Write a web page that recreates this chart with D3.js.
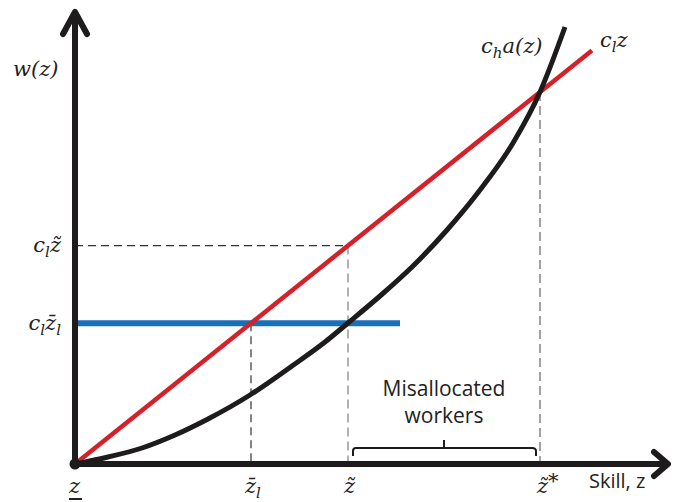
<!DOCTYPE html>
<html><head><meta charset="utf-8">
<script src="https://cdn.jsdelivr.net/npm/d3@7"></script>
<style>body{margin:0;background:#fff}svg{display:block}</style>
</head><body>
<script>
// ---- data (model units) ----
const curveZ = [0, 0.33, 0.67, 1.0, 1.33, 1.75, 2.17, 2.50, 2.73, 3.05, 3.38, 3.72, 4.05, 4.38, 4.65, 4.90];
const curveW = [0, 0.07, 0.16, 0.29, 0.45, 0.69, 0.98, 1.22, 1.41, 1.68, 1.98, 2.34, 2.74, 3.21, 3.72, 4.37];
const cl = 0.8;            // slope of c_l z
const redEndZ = 5.17;
const zBarL = 1.76;        // z̄_l
const zTilde = 2.73;       // z̃
const zStar = 4.65;        // z̃*
const blueEndZ = 3.25;
const xMax = 5.93, yMax = 4.52;

const W = 673, H = 502;
const svg = d3.select("body").append("svg").attr("width", W).attr("height", H);
const x = d3.scaleLinear().domain([0, xMax]).range([75, 668]);
const y = d3.scaleLinear().domain([0, yMax]).range([464, 12]);

const serif = "'DejaVu Serif', 'Liberation Serif', serif";
const sans = "'Open Sans', 'Noto Sans', sans-serif";

// dashed guides
const g = svg.append("g");
g.append("line").attr("x1", x(0)).attr("x2", x(zTilde)).attr("y1", y(cl*zTilde)).attr("y2", y(cl*zTilde))
  .attr("stroke", "#333").attr("stroke-width", 1.3).attr("stroke-dasharray", "8,5");
g.append("line").attr("x1", x(zBarL)).attr("x2", x(zBarL)).attr("y1", y(cl*zBarL)).attr("y2", y(0))
  .attr("stroke", "#333").attr("stroke-width", 1.2).attr("stroke-dasharray", "8,5");
g.append("line").attr("x1", x(zTilde)).attr("x2", x(zTilde)).attr("y1", y(cl*zTilde)).attr("y2", y(0))
  .attr("stroke", "#888").attr("stroke-width", 1.3).attr("stroke-dasharray", "9,5");
g.append("line").attr("x1", x(zStar)).attr("x2", x(zStar)).attr("y1", y(cl*zStar)).attr("y2", y(0))
  .attr("stroke", "#999").attr("stroke-width", 1.8).attr("stroke-dasharray", "9,5");

// blue line
svg.append("line").attr("x1", x(0)).attr("x2", x(blueEndZ)).attr("y1", y(cl*zBarL)).attr("y2", y(cl*zBarL))
  .attr("stroke", "#1a6fba").attr("stroke-width", 6);

// red line
svg.append("line").attr("x1", x(0)).attr("y1", y(0)).attr("x2", x(redEndZ)).attr("y2", y(cl*redEndZ))
  .attr("stroke", "#d4212a").attr("stroke-width", 4.5);

// black curve
const pts = curveZ.map((z, i) => [z, curveW[i]]);
svg.append("path").datum(pts)
  .attr("d", d3.line().x(d => x(d[0])).y(d => y(d[1])).curve(d3.curveMonotoneX))
  .attr("fill", "none").attr("stroke", "#1d1b1b").attr("stroke-width", 5);

// axes
const ax = svg.append("g").attr("stroke", "#1d1b1b").attr("stroke-width", 6).attr("fill", "none")
  .attr("stroke-linecap", "round").attr("stroke-linejoin", "round");
ax.append("line").attr("x1", x(0)).attr("y1", y(0)).attr("x2", x(0)).attr("y2", y(yMax) + 2);
ax.append("path").attr("d", `M${x(0)-12},${y(yMax)+22}L${x(0)},${y(yMax)}L${x(0)+12},${y(yMax)+22}`);
ax.append("line").attr("x1", x(0)).attr("y1", y(0)).attr("x2", x(xMax) - 2).attr("y2", y(0));
ax.append("path").attr("d", `M${x(xMax)-14},${y(0)-12}L${x(xMax)},${y(0)}L${x(xMax)-14},${y(0)+12}`);
svg.append("circle").attr("cx", x(0)).attr("cy", y(0)).attr("r", 5.5).attr("fill", "#1d1b1b");

// brace
const by = y(0) - 16;
svg.append("path")
  .attr("d", `M${x(zTilde)+5},${y(0)-8} L${x(zTilde)+5},${by+3} Q${x(zTilde)+5},${by} ${x(zTilde)+8},${by}
              L${x(zStar)-8},${by} Q${x(zStar)-4},${by} ${x(zStar)-4},${by+3} L${x(zStar)-4},${y(0)-8}
              M${(x(zTilde)+x(zStar))/2},${by} L${(x(zTilde)+x(zStar))/2},${by-8}`)
  .attr("fill", "none").attr("stroke", "#1d1b1b").attr("stroke-width", 2);

// text helpers
function mathText(px, py, parts, anchor) {
  const t = svg.append("text").attr("x", px).attr("y", py)
    .attr("font-family", serif).attr("font-style", "italic").attr("font-size", 21)
    .attr("fill", "#222").attr("text-anchor", anchor || "start");
  parts.forEach(p => {
    const s = t.append("tspan").text(p.t);
    if (p.sub) s.attr("font-size", 15).attr("dy", 5);
    if (p.up) s.attr("dy", -5);
  });
  return t;
}

mathText(13, 76, [{t: "w(z)"}]);
mathText(481, 53, [{t: "c"}, {t: "h", sub: 1}, {t: "a(z)", up: 1}]);
mathText(600, 47, [{t: "c"}, {t: "l", sub: 1}, {t: "z", up: 1}]);
mathText(61, 252, [{t: "c"}, {t: "l", sub: 1}, {t: "z\u0303", up: 1}], "end");
mathText(61, 330, [{t: "c"}, {t: "l", sub: 1}, {t: "z\u0304", up: 1}, {t: "l", sub: 1}], "end");

mathText(x(0) - 6, 493, [{t: "z"}]);
svg.append("line").attr("x1", x(0) - 6).attr("x2", x(0) + 7).attr("y1", 499).attr("y2", 499)
  .attr("stroke", "#222").attr("stroke-width", 2);
mathText(x(zBarL) - 6, 493, [{t: "z\u0304"}, {t: "l", sub: 1}]);
mathText(x(zTilde) - 4, 493, [{t: "z\u0303"}]);
mathText(x(zStar) - 3, 493, [{t: "z\u0303"}, {t: "*", up: 1}]);

svg.append("text").attr("x", 589).attr("y", 488).attr("font-family", sans).attr("font-size", 20)
  .attr("fill", "#222").text("Skill, z");
svg.append("text").attr("x", 444).attr("y", 396).attr("text-anchor", "middle").attr("font-family", sans)
  .attr("font-size", 21).attr("fill", "#222").text("Misallocated");
svg.append("text").attr("x", 444).attr("y", 423).attr("text-anchor", "middle").attr("font-family", sans)
  .attr("font-size", 21).attr("fill", "#222").text("workers");
</script>
</body></html>
